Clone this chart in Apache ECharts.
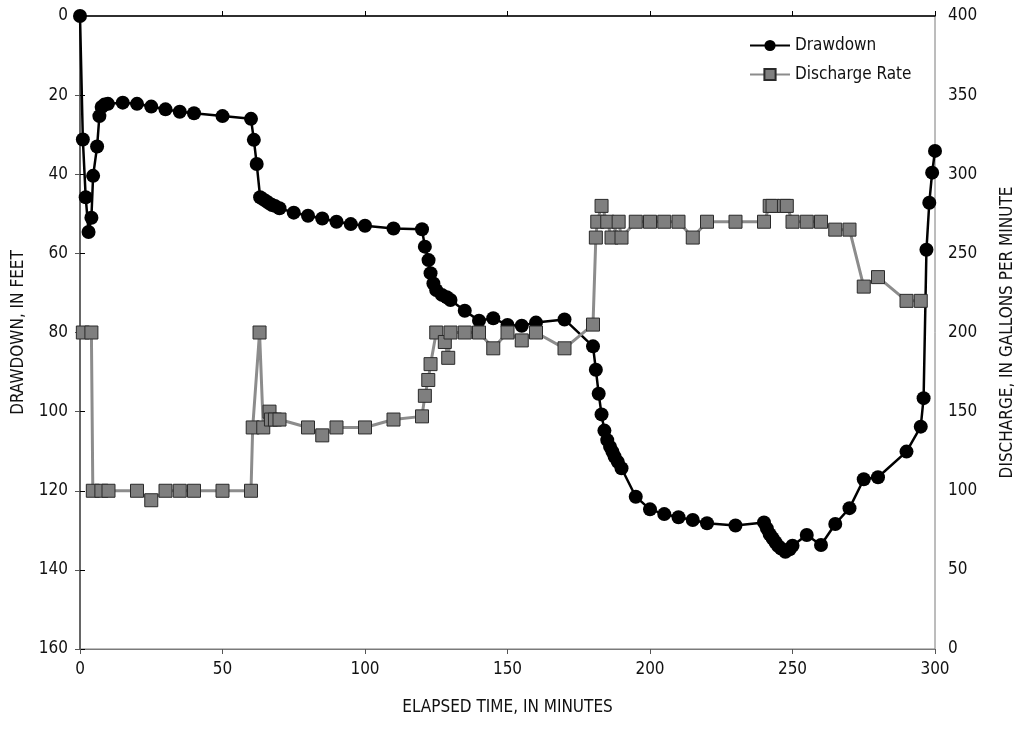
<!DOCTYPE html>
<html>
<head>
<meta charset="utf-8">
<script src="https://cdn.jsdelivr.net/npm/echarts@6/dist/echarts.min.js"></script>
<style>
html,body{margin:0;padding:0;background:#fff;}
#chart{width:1023px;height:742px;}
</style>
</head>
<body>
<div id="chart"></div>
<script>
// Drawdown (feet) vs elapsed time (minutes)
var drawdownTime = [0,1,2,3,4,4.6,6,6.8,7.6,8.6,9.8,15,20,25,30,35,40,50,60,61,62,63.2,64.2,65.3,66.3,67.4,68.4,70,75,80,85,90,95,100,110,120,121,122.3,123,124,125,127,128.7,130,135,140,145,150,155,160,170,180,181,182,183,184,185,186,186.8,187.6,188.7,190,195,200,205,210,215,220,230,240,241,242,243,244,245,246,247.5,249,250,255,260,265,270,275,280,290,295,296,297,298,299,300];
var drawdownFeet = [0,31.2,45.8,54.6,51,40.4,33,25.3,23,22.4,22.2,21.9,22.2,22.9,23.6,24.2,24.6,25.3,26,31.3,37.4,45.8,46.3,46.8,47.3,47.8,48,48.6,49.7,50.5,51.2,52,52.6,53,53.7,53.9,58.3,61.7,65,67.6,69.3,70.5,71.1,71.8,74.5,77,76.4,78.1,78.3,77.5,76.7,83.5,89.4,95.5,100.7,104.8,107.2,108.9,110.1,111.4,112.7,114.3,121.5,124.7,125.9,126.7,127.4,128.2,128.8,128,129.5,131,132,133,134,134.6,135.4,134.8,133.9,131.2,133.7,128.4,124.4,117.1,116.6,110.1,103.8,96.6,59.1,47.2,39.6,34.1];

// Discharge rate (gallons per minute) vs elapsed time (minutes)
var dischargeTime = [1,4,4.5,7.5,10,20,25,30,35,40,50,60,60.6,63,64.3,66.5,67,68.4,70,80,85,90,100,110,120,121,122.2,123,125,128,129.2,130,135,140,145,150,155,160,170,180,181,181.5,183,185,186.5,189,190,195,200,205,210,215,220,230,240,242,243,247,248,250,255,260,265,270,275,280,290,295];
var dischargeGpm = [200,200,100,100,100,100,94,100,100,100,100,100,140,200,140,150,145,145,145,140,135,140,140,145,147,160,170,180,200,194,184,200,200,200,190,200,195,200,190,205,260,270,280,270,260,270,260,270,270,270,270,260,270,270,270,280,280,280,280,270,270,270,265,265,229,235,220,220];

var timeTicks = [0,50,100,150,200,250,300];
var drawdownTicks = [0,20,40,60,80,100,120,140,160];
var dischargeTicks = [0,50,100,150,200,250,300,350,400];

function pairs(xs, ys){ return xs.map(function(x,i){ return [x, ys[i]]; }); }

var FONT = "'Liberation Sans Narrow','DejaVu Sans Condensed','Roboto Condensed',sans-serif";
var chart = echarts.init(document.getElementById('chart'), null, {renderer:'canvas'});
chart.setOption({
  animation:false,
  backgroundColor:'#ffffff',
  textStyle:{fontFamily:FONT},
  grid:{left:80,right:88,top:16,bottom:93,outerBoundsMode:'none',containLabel:false,show:true,borderColor:'#7a7a7a',borderWidth:1,backgroundColor:'transparent'},
  legend:{
    orient:'vertical', left:744, top:32, itemWidth:40, itemHeight:14, itemGap:12,
    textStyle:{fontFamily:FONT,fontSize:17,color:'#111'},
    data:['Drawdown','Discharge Rate']
  },
  xAxis:[{
    type:'value', min:0, max:300, interval:50, position:'bottom',
    name:'ELAPSED TIME, IN MINUTES', nameLocation:'middle', nameGap:50,
    nameTextStyle:{fontFamily:FONT,fontSize:17,color:'#111'},
    axisLine:{lineStyle:{color:'#000',width:1.5}},
    axisTick:{inside:true,length:5,lineStyle:{color:'#000'}},
    axisLabel:{fontFamily:FONT,fontSize:17,color:'#111',margin:12,
      formatter:function(v){return timeTicks.indexOf(v)>=0?String(v):'';}},
    splitLine:{show:false}
  },{
    type:'value', min:0, max:300, interval:50, position:'top',
    axisLine:{show:true,lineStyle:{color:'#7a7a7a'}},
    axisTick:{inside:true,length:5,lineStyle:{color:'#555'}},
    axisLabel:{show:false}, splitLine:{show:false}
  }],
  yAxis:[{
    type:'value', inverse:true, min:0, max:160, interval:20, position:'left',
    name:'DRAWDOWN, IN FEET', nameLocation:'middle', nameGap:53, nameRotate:90,
    nameTextStyle:{fontFamily:FONT,fontSize:17,color:'#111'},
    axisLine:{show:true,lineStyle:{color:'#000',width:1.5}},
    axisTick:{show:true,inside:true,length:5,lineStyle:{color:'#000'}},
    axisLabel:{fontFamily:FONT,fontSize:17,color:'#111',margin:12,
      formatter:function(v){return drawdownTicks.indexOf(v)>=0?String(v):'';}},
    splitLine:{show:false}
  },{
    type:'value', min:0, max:400, interval:50, position:'right',
    name:'DISCHARGE, IN GALLONS PER MINUTE', nameLocation:'middle', nameGap:64, nameRotate:90,
    nameTextStyle:{fontFamily:FONT,fontSize:17,color:'#111'},
    axisLine:{show:true,lineStyle:{color:'#7a7a7a',width:1.5}},
    axisTick:{show:true,inside:true,length:5,lineStyle:{color:'#555'}},
    axisLabel:{fontFamily:FONT,fontSize:17,color:'#111',margin:13,
      formatter:function(v){return dischargeTicks.indexOf(v)>=0?String(v):'';}},
    splitLine:{show:false}
  }],
  series:[{
    name:'Drawdown', type:'line', xAxisIndex:0, yAxisIndex:0,
    data:pairs(drawdownTime, drawdownFeet),
    symbol:'circle', symbolSize:14, showAllSymbol:true,
    lineStyle:{color:'#000',width:2.5},
    itemStyle:{color:'#000',borderWidth:0},
    z:3
  },{
    name:'Discharge Rate', type:'line', xAxisIndex:0, yAxisIndex:1,
    data:pairs(dischargeTime, dischargeGpm),
    symbol:'rect', symbolSize:13, showAllSymbol:true,
    lineStyle:{color:'#8c8c8c',width:3},
    itemStyle:{color:'#7f7f7f',borderColor:'#2a2a2a',borderWidth:1},
    z:4
  }]
});
</script>
</body>
</html>
